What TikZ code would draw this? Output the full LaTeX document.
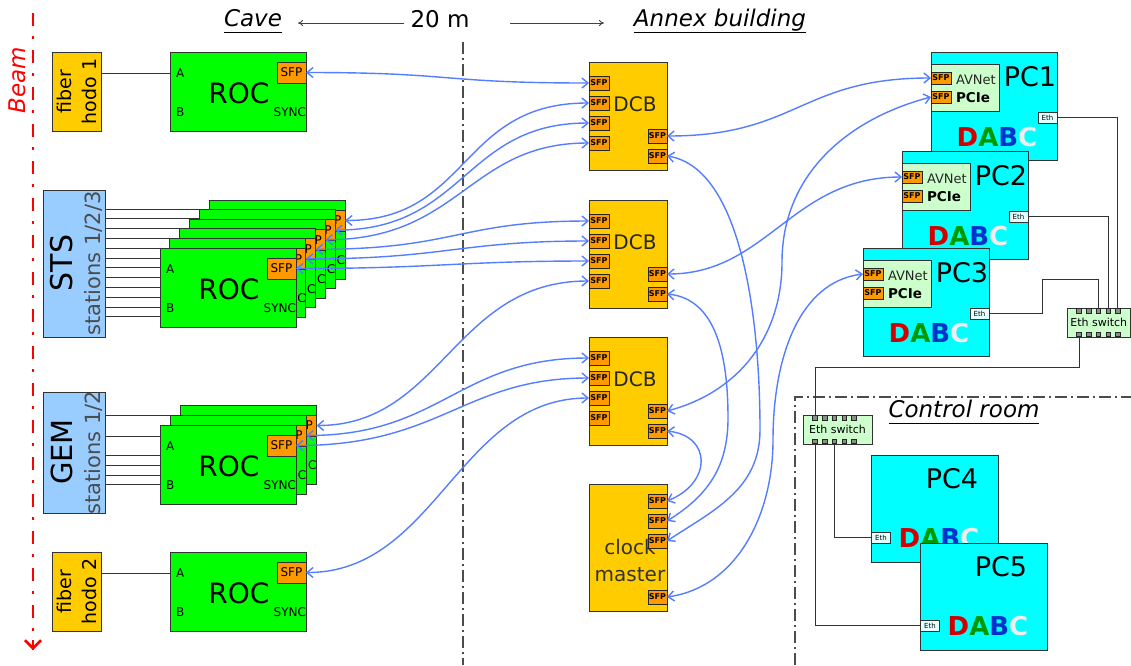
\documentclass[tikz,border=0pt]{standalone}
\usepackage{fontspec}
\setmainfont{DejaVu Sans}
\usetikzlibrary{arrows.meta,calc}

\definecolor{rocgreen}{HTML}{00FF00}
\definecolor{gold}{HTML}{FFCC00}
\definecolor{sfporange}{HTML}{FF9900}
\definecolor{detblue}{HTML}{99CCFF}
\definecolor{pccyan}{HTML}{00FFFF}
\definecolor{cardgreen}{HTML}{CCFFCC}
\definecolor{ethwhite}{HTML}{E4FFFF}
\definecolor{linkblue}{RGB}{85,125,255}
\definecolor{outline}{HTML}{333333}
\definecolor{dabcD}{HTML}{D40000}
\definecolor{dabcA}{HTML}{009900}
\definecolor{dabcB}{HTML}{0033CC}
\definecolor{dabcC}{HTML}{EEEEEE}

\newcommand\fsz[2]{\fontsize{#1}{#2}\selectfont}
\newcommand\dabcword{\textcolor{dabcD}{D}\textcolor{dabcA}{A}\textcolor{dabcB}{B}\textcolor{dabcC}{C}}
\newcommand\ulabel[1]{\underline{\vphantom{g}#1}}

\tikzset{
  every node/.style={inner sep=0pt, outer sep=0pt},
  unit/.style={draw=outline, line width=1pt},
  rocbox/.style={unit, fill=rocgreen, minimum width=136pt, minimum height=79pt},
  rocsfp/.style={unit, fill=sfporange, minimum width=29pt, minimum height=21pt, font=\fsz{12}{12}},
  pinlabel/.style={font=\fsz{12}{12}},
  roctitle/.style={font=\fsz{28}{28}},
  detbox/.style={unit, fill=detblue, minimum width=62pt},
  hodobox/.style={unit, fill=gold, minimum width=49pt, minimum height=79pt},
  dcbbox/.style={unit, fill=gold, minimum width=78pt, minimum height=108pt},
  tinysfp/.style={draw=black!85, line width=0.9pt, fill=sfporange, minimum width=20pt, minimum height=14pt, font=\fsz{8}{8}\bfseries},
  pcbox/.style={unit, fill=pccyan, minimum width=126pt, minimum height=108pt},
  cardbox/.style={unit, fill=cardgreen, minimum width=68pt, minimum height=47pt},
  pctitle/.style={font=\fsz{27}{27}},
  ethbox/.style={draw=outline, line width=0.8pt, fill=ethwhite, minimum width=19pt, minimum height=11pt, font=\fsz{7}{7}},
  dabc/.style={font=\fsz{26}{26}\bfseries},
  switchbox/.style={unit, fill=cardgreen, minimum height=29pt, font=\fsz{11}{11}},
  port/.style={draw=black!85, line width=0.6pt, fill=black!45, minimum size=4.5pt},
  wire/.style={draw=outline, line width=1pt},
  fibrelink/.style={draw=linkblue, line width=1.4pt, >={Straight Barb[length=6pt,width=10pt]}, <->},
  heading/.style={font=\fsz{23}{23}\itshape},
  sepline/.style={draw=black!70, line width=1.5pt, dash pattern=on 12pt off 4pt on 2pt off 4pt},
  beamline/.style={draw=red, line width=2.6pt, dash pattern=on 13pt off 10pt on 3pt off 11pt},
  dimarrow/.style={draw=black!75, line width=0.8pt, -{To[length=5pt,width=6pt]}},
}

% readout controller: name, left x, top y
\newcommand\rocunit[3]{%
  \node[rocbox] (#1) at (#2+68,#3+39.5) {};
  \node[pinlabel,anchor=west] (#1-a) at (#2+6,#3+21) {A};
  \node[pinlabel,anchor=west] (#1-b) at (#2+6,#3+60) {B};
  \node[roctitle] at (#2+69,#3+41) {ROC};
  \node[pinlabel,anchor=east] at (#2+136,#3+60) {SYNC};
  \node[rocsfp] (#1-sfp) at (#2+121.5,#3+20.5) {SFP};
}

% data combiner board: name, top y
\newcommand\dcbunit[2]{%
  \node[dcbbox] (#1) at (628,#2+54) {};
  \node[font=\fsz{20}{20}, text=black!85] at (635,#2+42) {DCB};
  \foreach \k/\dy in {1/21,2/41,3/61,4/81} {\node[tinysfp] (#1-l\k) at (599,#2+\dy) {SFP};}
  \foreach \k/\dy in {1/74,2/94} {\node[tinysfp, minimum width=19pt] (#1-r\k) at (657.5,#2+\dy) {SFP};}
}

% readout PC with optical card: name, left x, top y, label
\newcommand\pcunit[4]{%
  \node[pcbox] (#1) at (#2+63,#3+54) {};
  \node[cardbox] (#1-card) at (#2+34,#3+35.5) {};
  \node[tinysfp, minimum height=12pt] (#1-s1) at (#2+10,#3+26) {SFP};
  \node[tinysfp, minimum height=12pt] (#1-s2) at (#2+10,#3+45) {SFP};
  \node[anchor=west, font=\fsz{13}{13}, text=black!85] at (#2+25,#3+28) {AVNet};
  \node[anchor=west, font=\fsz{13.5}{13.5}\bfseries] at (#2+25,#3+46) {PCIe};
  \node[pctitle] at (#2+99,#3+25) {#4};
  \node[ethbox] (#1-eth) at (#2+116.5,#3+65.5) {Eth};
  \node[dabc] at (#2+66,#3+85) {\dabcword};
}

% plain PC: name, left x, top y, label
\newcommand\pcplain[4]{%
  \node[pcbox, minimum width=127pt, minimum height=107pt] (#1) at (#2+63.5,#3+53.5) {};
  \node[pctitle] at (#2+81,#3+24) {#4};
  \node[ethbox] (#1-eth) at (#2+10,#3+82.5) {Eth};
  \node[dabc] at (#2+68,#3+83) {\dabcword};
}

% ethernet switch: name, left x, top y, width
\newcommand\ethswitch[4]{%
  \node[switchbox, minimum width=#4pt] (#1) at (#2+#4/2,#3+14.5) {Eth switch};
  \foreach \k in {1,...,5} {%
    \node[port] (#1-t\k) at (#2+12+9.7*\k-9.7,#3+3) {};
    \node[port] (#1-b\k) at (#2+12+9.7*\k-9.7,#3+26.5) {};
  }
}

\begin{document}
\begin{tikzpicture}[x=1pt,y=-1pt]
\useasboundingbox (0,0) rectangle (1131,665);
\fill[white] (0,0) rectangle (1131,665);

% room boundaries
\draw[sepline] (463,42) -- (463,665);
\draw[sepline] (795,665) |- (1131,397);

% headings
\node[heading] (cave) at (253,21) {\ulabel{Cave}};
\node[font=\fsz{23}{23}] (dist) at (440,19) {20 m};
\node[heading] (annex) at (720,21) {\ulabel{Annex building}};
\node[heading] (ctrl) at (964,412) {\ulabel{Control room}};
\coordinate (caveTip) at (298,23);
\coordinate (annexTip) at (604,23);
\coordinate (dimL) at (404,23);
\coordinate (dimR) at (510,23);
\draw[dimarrow] (dimL) -- (caveTip);
\draw[dimarrow] (dimR) -- (annexTip);

% beam axis
\coordinate (beamTop) at (33,13);
\coordinate (beamEnd) at (33,650);
\draw[beamline] (beamTop) -- (beamEnd);
\draw[red, line width=2.6pt, -{Straight Barb[length=8pt,width=16pt]}] (33,640) -- (beamEnd);
\node[rotate=90, font=\fsz{23}{23}\itshape, text=red] (beam) at (17,80) {Beam};

% fiber hodoscope 1
\node[hodobox] (hodo1) at (76.5,91.5) {};
\node[rotate=90, align=center, font=\fsz{19}{25}] at (hodo1) {fiber\\hodo 1};
\rocunit{roc1}{170}{52}
\draw[wire] (hodo1.east |- roc1-a) -- (roc1.west |- roc1-a);

% STS stations
\node[detbox, minimum height=147pt] (sts) at (74,263.5) {};
\node[rotate=90, font=\fsz{30}{30}] at (62,263) {STS};
\node[rotate=90, font=\fsz{21}{21}, text=black!70] at (93,263.5) {stations 1/2/3};
\foreach \i in {0,...,11}{
  \coordinate (lvl) at (0,{209+9.8*\i});
  \draw[wire] (sts.east |- lvl) -- ++(190,0);
}
\foreach \k in {5,4,3,2,1,0} {\rocunit{sts\k}{160+9.8*\k}{248-9.6*\k}}

% GEM stations
\node[detbox, minimum height=121pt] (gem) at (74,452.5) {};
\node[rotate=90, font=\fsz{29}{29}] at (62,452) {GEM};
\node[rotate=90, font=\fsz{21}{21}, text=black!70] at (93,452.5) {stations 1/2};
\foreach \yy in {415,436,455,465,475,484}{
  \coordinate (lvl) at (0,\yy);
  \draw[wire] (gem.east |- lvl) -- ++(190,0);
}
\foreach \k in {2,1,0} {\rocunit{gem\k}{160+10.3*\k}{425-10*\k}}

% fiber hodoscope 2
\node[hodobox] (hodo2) at (76.5,591.5) {};
\node[rotate=90, align=center, font=\fsz{19}{25}] at (hodo2) {fiber\\hodo 2};
\rocunit{roc4}{170}{552}
\draw[wire] (hodo2.east |- roc4-a) -- (roc4.west |- roc4-a);

% data combiner boards and clock master
\dcbunit{dcb1}{62}
\dcbunit{dcb2}{200}
\dcbunit{dcb3}{337}
\node[dcbbox, minimum height=127pt] (clock) at (628,547.5) {};
\begin{scope}
  \clip (clock.south west) rectangle (clock.north east);
  \node[align=center, font=\fsz{20}{27}, text=black!80] at (630,561) {clock\\master};
\end{scope}
\foreach \k/\yy in {1/501,2/521,3/541,4/597} {\node[tinysfp, minimum width=19pt] (clock-r\k) at (657.5,\yy) {SFP};}

% readout PCs
\pcunit{pc1}{931}{52}{PC1}
\pcunit{pc2}{902}{151}{PC2}
\pcunit{pc3}{863}{248}{PC3}
\ethswitch{swA}{1067}{308}{63.5}
\draw[wire] (pc1-eth.east) -| (swA-t5.north);
\draw[wire] (pc2-eth.east) -| (swA-t4.north);
\coordinate (bendA) at (1042,279);
\draw[wire] (pc3-eth.east) -| (bendA) -| (swA-t3.north);

% control room
\ethswitch{swB}{803}{415}{69}
\pcplain{pc4}{871}{455}{PC4}
\pcplain{pc5}{920}{543}{PC5}
\draw[wire] (swA-b1.south) -- ++(0,31) -| (swB-t1.north);
\draw[wire] (swB-b1.south) |- (pc5-eth.west);
\draw[wire] (swB-b3.south) |- (pc4-eth.west);

% optical links, cave side
\draw[fibrelink] (roc1-sfp.east) .. controls +(150,0) and +(-150,0) .. (dcb1-l1.west);
\draw[fibrelink] (sts5-sfp.east) .. controls +(125,0) and +(-130,0) .. (dcb1-l2.west);
\draw[fibrelink] (sts4-sfp.east) .. controls +(130,0) and +(-125,0) .. (dcb1-l3.west);
\draw[fibrelink] (sts3-sfp.east) .. controls +(135,0) and +(-120,0) .. (dcb1-l4.west);
\draw[fibrelink] (sts2-sfp.east) .. controls +(140,0) and +(-130,0) .. (dcb2-l1.west);
\draw[fibrelink] (sts1-sfp.east) .. controls +(140,0) and +(-130,0) .. (dcb2-l2.west);
\draw[fibrelink] (sts0-sfp.east) .. controls +(140,0) and +(-130,0) .. (dcb2-l3.west);
\draw[fibrelink] (gem2-sfp.east) .. controls +(125,0) and +(-135,0) .. (dcb2-l4.west);
\draw[fibrelink] (gem1-sfp.east) .. controls +(135,0) and +(-130,0) .. (dcb3-l1.west);
\draw[fibrelink] (gem0-sfp.east) .. controls +(145,0) and +(-125,0) .. (dcb3-l2.west);
\draw[fibrelink] (roc4-sfp.east) .. controls +(130,0) and +(-130,0) .. (dcb3-l3.west);

% optical links, annex side
\draw[fibrelink] (dcb1-r1.east) .. controls +(130,0) and +(-130,0) .. (pc1-s1.west);
\draw[fibrelink] (dcb2-r1.east) .. controls +(100,0) and +(-110,0) .. (pc2-s1.west);
\coordinate (turnA) at (782,262);
\draw[fibrelink] (dcb3-r1.east) .. controls +(72,-19) and +(0,74) .. (turnA)
                                .. controls +(0,-87) and +(-84,22) .. (pc1-s2.west);
\coordinate (turnB) at (773,440);
\draw[fibrelink] (clock-r4.east) .. controls +(70,-10) and +(0,75) .. (turnB)
                                 .. controls +(0,-80) and +(-65,8) .. (pc3-s1.west);
\coordinate (turnC) at (760,430);
\draw[fibrelink] (dcb1-r2.east) .. controls +(75,12) and +(0,-110) .. (turnC)
                                .. controls +(0,60) and +(45,-30) .. (clock-r3.east);
\coordinate (turnD) at (728,418);
\draw[fibrelink] (dcb2-r2.east) .. controls +(50,5) and +(0,-60) .. (turnD)
                                .. controls +(0,50) and +(40,-25) .. (clock-r2.east);
\draw[fibrelink] (dcb3-r2.east) .. controls +(45,5) and +(45,-18) .. (clock-r1.east);
\end{tikzpicture}
\end{document}
